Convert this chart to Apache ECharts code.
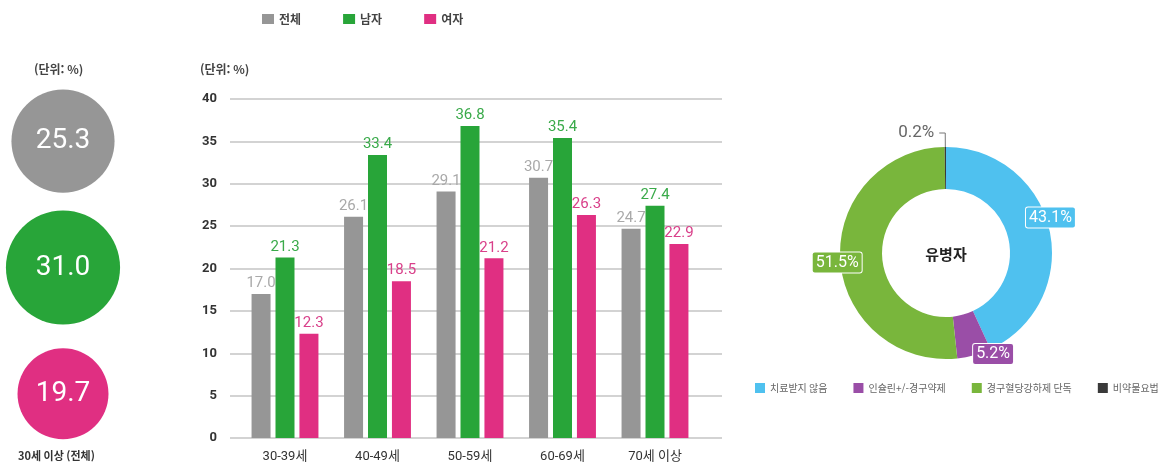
<!DOCTYPE html>
<html lang="ko">
<head>
<meta charset="utf-8">
<title>당뇨병 유병률 및 치료 현황</title>
<script src="https://cdn.jsdelivr.net/npm/echarts@6/dist/echarts.min.js"></script>
<style>
  html, body { margin: 0; padding: 0; background: #ffffff; }
  #chart { width: 1176px; height: 469px; }
</style>
</head>
<body>
<div id="chart"></div>
<script>
// 30세 이상 전체 유병률 (전체 / 남자 / 여자)
const groupNames = ['전체', '남자', '여자'];
const overallRates = [25.3, 31.0, 19.7];

// 연령별 유병률
const ageGroups = ['30-39세', '40-49세', '50-59세', '60-69세', '70세 이상'];
const totalRates = [17.0, 26.1, 29.1, 30.7, 24.7];
const maleRates = [21.3, 33.4, 36.8, 35.4, 27.4];
const femaleRates = [12.3, 18.5, 21.2, 26.3, 22.9];

// 유병자 치료 현황
const treatNames = ['치료받지 않음', '인슐린+/-경구약제', '경구혈당강하제 단독', '비약물요법'];
const treatShares = [43.1, 5.2, 51.5, 0.2];

// 세로축 눈금
const yMin = 0, yMax = 40, yStep = 5;

const groupColors = ['#969696', '#28a539', '#e02f82'];
const labelColors = ['#a9a9a9', '#3aaa4a', '#d9408a'];
const treatColors = ['#4fc1ef', '#9a4ea7', '#79b63c', '#3a3a3a'];

const NUM_FONT = "Roboto, 'Noto Sans CJK KR', sans-serif";
const KR_FONT = "'Noto Sans CJK KR', 'Noto Sans', sans-serif";

const chart = echarts.init(document.getElementById('chart'), null, { renderer: 'canvas' });

const barSeries = [totalRates, maleRates, femaleRates].map((vals, i) => ({
  name: groupNames[i],
  type: 'bar',
  xAxisIndex: 1,
  yAxisIndex: 1,
  data: vals,
  barWidth: 19,
  barGap: '26%',
  itemStyle: { color: groupColors[i] },
  label: {
    show: true,
    position: 'top',
    distance: 3,
    color: labelColors[i],
    fontFamily: NUM_FONT,
    fontSize: 15,
    formatter: p => p.value.toFixed(1)
  }
}));

const pieLabelBox = {
  show: true,
  position: 'inside',
  color: '#ffffff',
  fontFamily: NUM_FONT,
  fontSize: 16,
  padding: [3, 3, 1, 3],
  borderColor: '#ffffff',
  borderWidth: 1,
  borderRadius: 2,
  formatter: p => p.value.toFixed(1) + '%'
};

// 비율 상자를 조각 바깥쪽으로 조금씩 옮기는 보정값
const labelNudge = [{ dx: -2, dy: -12 }, { dx: 18, dy: -4 }, { dx: 0, dy: 3 }, {}];

const option = {
  animation: false,
  backgroundColor: '#ffffff',
  legend: [
    {
      left: 262,
      top: 13,
      padding: 0,
      itemWidth: 12,
      itemHeight: 10,
      itemGap: 42,
      icon: 'rect',
      textStyle: { fontFamily: KR_FONT, fontSize: 12, fontWeight: 'bold', color: '#444' },
      data: groupNames.map((n, i) => ({ name: n, itemStyle: { color: groupColors[i] } }))
    },
    {
      left: 755,
      top: 383,
      padding: 0,
      width: 420,
      itemWidth: 10,
      itemHeight: 10,
      itemGap: 26,
      icon: 'rect',
      textStyle: { fontFamily: KR_FONT, fontSize: 10, color: '#666' },
      data: treatNames.map((n, i) => ({ name: n, itemStyle: { color: treatColors[i] } }))
    }
  ],
  grid: [
    // 왼쪽 원형 지표
    { left: 0, width: 126, top: 78, height: 379 },
    // 막대그래프 격자선과 세로축
    { left: 230, right: 454, top: 99, height: 339 },
    // 막대그래프
    { left: 238.75, width: 462.5, top: 99, height: 339 }
  ],
  xAxis: [
    { gridIndex: 0, type: 'value', min: -1, max: 1, show: false },
    { gridIndex: 2, type: 'category', data: ageGroups,
      axisLine: { show: false }, axisTick: { show: false },
      axisLabel: { margin: 12, color: '#333', fontFamily: NUM_FONT, fontSize: 13 } },
    { gridIndex: 1, type: 'value', min: 0, max: 1, show: false }
  ],
  yAxis: [
    { gridIndex: 0, type: 'category', data: groupNames, inverse: true, show: false },
    { gridIndex: 2, type: 'value', min: yMin, max: yMax, interval: yStep, show: false },
    { gridIndex: 1, type: 'value', min: yMin, max: yMax, interval: yStep,
      axisLine: { show: false }, axisTick: { show: false },
      axisLabel: { margin: 13, color: '#333', fontFamily: NUM_FONT, fontWeight: 'bold', fontSize: 13 },
      splitLine: { lineStyle: { color: '#c4c4c4', width: 1.5 } } }
  ],
  graphic: [
    { type: 'text', left: 34, top: 63,
      style: { text: '(단위: %)', font: "bold 12px 'Noto Sans CJK KR'", fill: '#444' } },
    { type: 'text', left: 200, top: 63,
      style: { text: '(단위: %)', font: "bold 12px 'Noto Sans CJK KR'", fill: '#444' } },
    { type: 'text', left: 18, top: 450,
      style: { text: '30세 이상 (전체)', font: "bold 11px 'Noto Sans CJK KR'", fill: '#333' } },
    { type: 'text', x: 946, y: 254,
      style: { text: '유병자', font: "bold 15px 'Noto Sans CJK KR'", fill: '#222',
               align: 'center', verticalAlign: 'middle' } }
  ],
  series: [
    {
      name: '30세 이상',
      type: 'scatter',
      xAxisIndex: 0,
      yAxisIndex: 0,
      data: overallRates.map((v, i) => ({ value: [0, groupNames[i]],
                                           itemStyle: { color: groupColors[i], opacity: 1 } })),
      symbol: 'circle',
      symbolSize: (val, p) => 20.5 * Math.sqrt(overallRates[p.dataIndex]),
      label: {
        show: true,
        position: 'inside',
        color: '#ffffff',
        fontFamily: NUM_FONT,
        fontSize: 28,
        formatter: p => overallRates[p.dataIndex].toFixed(1)
      }
    },
    ...barSeries,
    {
      name: '치료 현황',
      type: 'pie',
      center: [946, 253],
      radius: [64, 106],
      startAngle: 90,
      clockwise: true,
      avoidLabelOverlap: false,
      data: treatShares.map((v, i) => ({
        name: treatNames[i],
        value: v,
        itemStyle: { color: treatColors[i] },
        label: i === 3 ? {
          show: true,
          position: 'outside',
          color: '#666',
          fontFamily: NUM_FONT,
          fontSize: 17,
          formatter: p => p.value.toFixed(1) + '%'
        } : { show: false },
        labelLine: i === 3 ? { show: true, length: 14, length2: 6,
                               lineStyle: { color: '#777', width: 1 } } : { show: false }
      }))
    },
    {
      // 바깥 테두리 위에 놓이는 비율 상자 라벨
      name: '치료 현황 라벨',
      type: 'pie',
      center: [946, 253],
      radius: [100, 112],
      startAngle: 90,
      clockwise: true,
      silent: true,
      avoidLabelOverlap: false,
      labelLine: { show: false },
      labelLayout: p => labelNudge[p.dataIndex],
      data: treatShares.map((v, i) => ({
        name: treatNames[i],
        value: v,
        itemStyle: { color: 'rgba(0,0,0,0)' },
        label: i === 3 ? { show: false } :
          Object.assign({}, pieLabelBox, { backgroundColor: treatColors[i] })
      }))
    }
  ]
};

chart.setOption(option);
</script>
</body>
</html>
